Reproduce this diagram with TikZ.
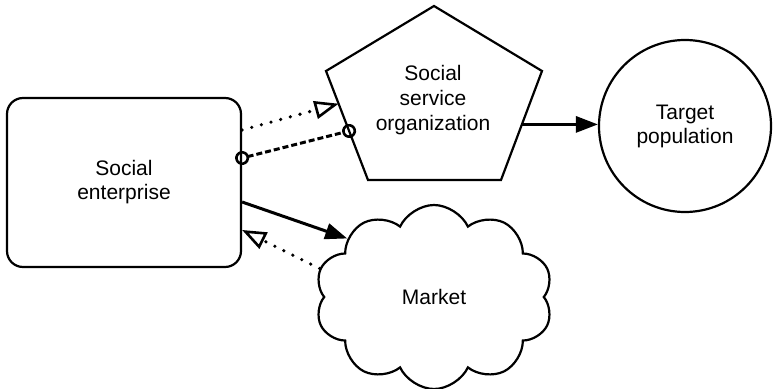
\documentclass[tikz,border=0pt]{standalone}
\usepackage{fontspec}
\setmainfont{Liberation Sans}
\usepackage{tikz}
\usetikzlibrary{positioning, arrows.meta, shapes, calc}
\tikzstyle{mybox} = [draw, line width=2.2pt, rectangle, rounded corners=16pt, minimum width=234pt, minimum height=169pt, align=center, font=\fontsize{21}{24}\selectfont]
\tikzstyle{mycircle} = [draw, line width=2.2pt, circle, minimum size=172pt, inner sep=0pt, align=center, font=\fontsize{21}{24}\selectfont]
\tikzstyle{mycloud} = [draw, line width=2.2pt, cloud, cloud puffs=10, cloud puff arc=130, cloud ignores aspect, minimum width=238pt, minimum height=184pt, font=\fontsize{21}{24}\selectfont]
\tikzstyle{mytext} = [align=center, font=\fontsize{21}{25}\selectfont]
\tikzstyle{solidarrow} = [line width=3pt, -{Triangle[length=22pt,width=16pt]}]
\tikzstyle{dottedarrow} = [line width=3.6pt, line cap=round, dash pattern=on 0pt off 10pt, -{Triangle[open,length=24pt,width=18pt,line width=2.6pt]}]
\tikzstyle{dashedline} = [line width=3pt, dash pattern=on 6pt off 3pt, {Circle[open,length=14pt,line width=2.6pt]}-{Circle[open,length=14pt,line width=2.6pt]}, shorten <=-7pt, shorten >=-7pt]

\begin{document}
\begin{tikzpicture}[x=1pt, y=-1pt]
      \useasboundingbox (0,0) rectangle (773,388);
      % shapes
      \node[mybox] (enterprise) at (124,182.5) {Social\\enterprise};
      \node[mycircle] (target) at (685,126) {Target\\population};
      \node[mycloud] (market) at (434,297) {Market};
      \coordinate (sso-top) at (434,6);
      \coordinate (sso-ul) at (326,71);
      \coordinate (sso-ur) at (542,71);
      \coordinate (sso-bl) at (368,180);
      \coordinate (sso-br) at (501,180);
      \draw[line width=2.2pt, line join=miter] (sso-top) -- (sso-ul) -- (sso-bl) -- (sso-br) -- (sso-ur) -- cycle;
      \node[mytext] (sso) at (433,100) {Social\\service\\organization};
      % connector ends
      \coordinate (e1) at ([yshift=52.5pt]enterprise.east);
      \coordinate (e2) at ([yshift=24.5pt]enterprise.east);
      \coordinate (e3) at ([yshift=-19.5pt]enterprise.east);
      \coordinate (e4) at ([yshift=-47.5pt]enterprise.east);
      \coordinate (sso-a) at ($(sso-ul)!0.3!(sso-bl)$);
      \coordinate (sso-b) at ($(sso-ul)!0.55!(sso-bl)$);
      \coordinate (sso-c) at ($(sso-ur)!0.49!(sso-br)$);
      % connectors
      \draw[dottedarrow] (e1) -- (sso-a);
      \draw[dashedline] (e2) -- (sso-b);
      \draw[solidarrow] (e3) -- (market.146);
      \draw[dottedarrow] (market.166) -- (e4);
      \draw[solidarrow] (sso-c) -- (sso-c -| target.west);
    \end{tikzpicture}
\end{document}
